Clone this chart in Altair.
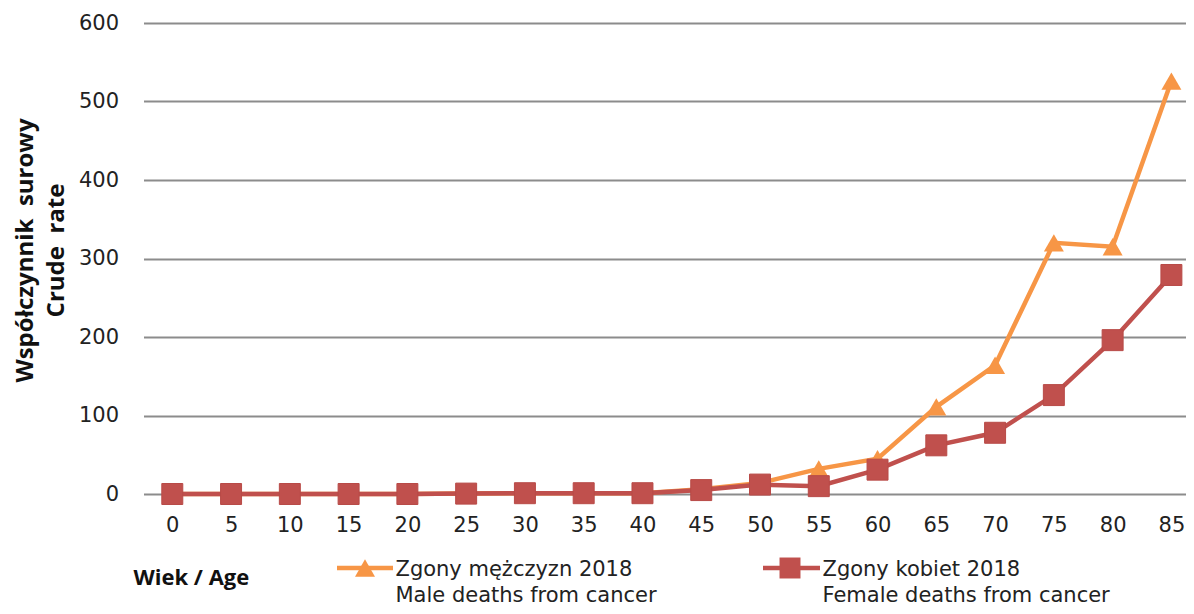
import altair as alt
import pandas as pd

ages = [0, 5, 10, 15, 20, 25, 30, 35, 40, 45, 50, 55, 60, 65, 70, 75, 80, 85]
male = [0, 0, 0, 0, 0, 0.5, 1, 1, 1, 6, 14, 32, 45, 111, 164, 320, 315, 526]
female = [0, 0, 0, 0, 0, 0.5, 1, 1, 1, 5, 12, 10, 31, 62, 78, 126, 196, 279]

series_pl = ["Zgony mężczyzn 2018", "Zgony kobiet 2018"]
series_en = ["Male deaths from cancer", "Female deaths from cancer"]
colors = ["#F79646", "#C0504D"]
shapes = ["triangle-up", "square"]
y_ticks = [0, 100, 200, 300, 400, 500, 600]

rows = []
for a, m, f in zip(ages, male, female):
    rows.append({"age": a, "value": m, "series": series_pl[0]})
    rows.append({"age": a, "value": f, "series": series_pl[1]})
df = pd.DataFrame(rows)
leg_df = pd.DataFrame({"series": series_pl, "en": series_en})

font = "DejaVu Sans"
tfont = "Open Sans"

x = alt.X("age:Q",
          scale=alt.Scale(domain=[-2.45, 86.2], nice=False, zero=False),
          axis=alt.Axis(values=ages, grid=False, domain=False, ticks=False,
                        labelPadding=20, labelFont=font, labelFontSize=21,
                        labelColor="#222222", labelFlush=False,
                        title="Wiek / Age", titleFont=tfont, titleFontSize=22,
                        titleFontWeight="bold", titleColor="#111111",
                        titleX=-10.5, titleY=83, titleAlign="left",
                        titleBaseline="middle"))
y = alt.Y("value:Q",
          scale=alt.Scale(domain=[0, 600], nice=False),
          axis=alt.Axis(values=y_ticks, domain=False, ticks=False,
                        gridColor="#8c8c8c", gridWidth=2,
                        labelPadding=25, labelFont=font, labelFontSize=21,
                        labelColor="#222222",
                        title=["Współczynnik\u00a0\u00a0surowy", "Crude\u00a0\u00a0rate"],
                        titleFont=tfont, titleFontSize=24, titleFontWeight="bold",
                        titleColor="#111111", titleLineHeight=31,
                        titleAngle=-90, titleAlign="center", titleBaseline="middle",
                        titleX=-118.5, titleY=227))

color_scale = alt.Scale(domain=series_pl, range=colors)

base = alt.Chart(df)

line = base.mark_line(strokeWidth=4.5).encode(
    x=x, y=y, color=alt.Color("series:N", scale=color_scale, legend=None))

tri = base.transform_filter(alt.datum.series == series_pl[0]).mark_point(
    shape=shapes[0], filled=True, size=400, opacity=1).encode(
    x=x, y=y, color=alt.Color("series:N", scale=color_scale, legend=None))

sq = base.transform_filter(alt.datum.series == series_pl[1]).mark_point(
    shape=shapes[1], filled=True, size=440, opacity=1, stroke="#b84a47",
    strokeWidth=1).encode(
    x=x, y=y, color=alt.Color("series:N", scale=color_scale, legend=None))

# legend, drawn below the plot (positions in pixels relative to plot origin)
leg_pos = [
    {"x1": 193.5, "x2": 249.5, "xm": 221.5, "xt": 252},
    {"x1": 619.5, "x2": 676.5, "xm": 646.5, "xt": 679},
]
sym_y, l1_y, l2_y = 545, 547, 573
legend_layers = []
for i, s in enumerate(series_pl):
    lb = alt.Chart(leg_df).transform_filter(alt.datum.series == s)
    p = leg_pos[i]
    legend_layers.append(lb.mark_rule(strokeWidth=4.5, color=colors[i]).encode(
        x=alt.value(p["x1"]), x2=alt.value(p["x2"]), y=alt.value(sym_y)))
    legend_layers.append(lb.mark_point(
        shape=shapes[i], filled=True, opacity=1, color=colors[i],
        size=400 if i == 0 else 440).encode(
        x=alt.value(p["xm"]), y=alt.value(sym_y)))
    legend_layers.append(lb.mark_text(
        align="left", baseline="middle", font=font, fontSize=21,
        color="#222222").encode(
        x=alt.value(p["xt"]), y=alt.value(l1_y), text="series:N"))
    legend_layers.append(lb.mark_text(
        align="left", baseline="middle", font=font, fontSize=21,
        color="#222222").encode(
        x=alt.value(p["xt"]), y=alt.value(l2_y), text="en:N"))

chart = alt.layer(line, tri, sq, *legend_layers).properties(
    width=1042, height=471,
    autosize=alt.AutoSizeParams(type="none"),
    padding={"left": 135.5, "top": 15, "right": 0, "bottom": 112},
).configure(background="white").configure_view(stroke=None)

chart.save("out.html", embed_options={"renderer": "svg", "actions": False})
